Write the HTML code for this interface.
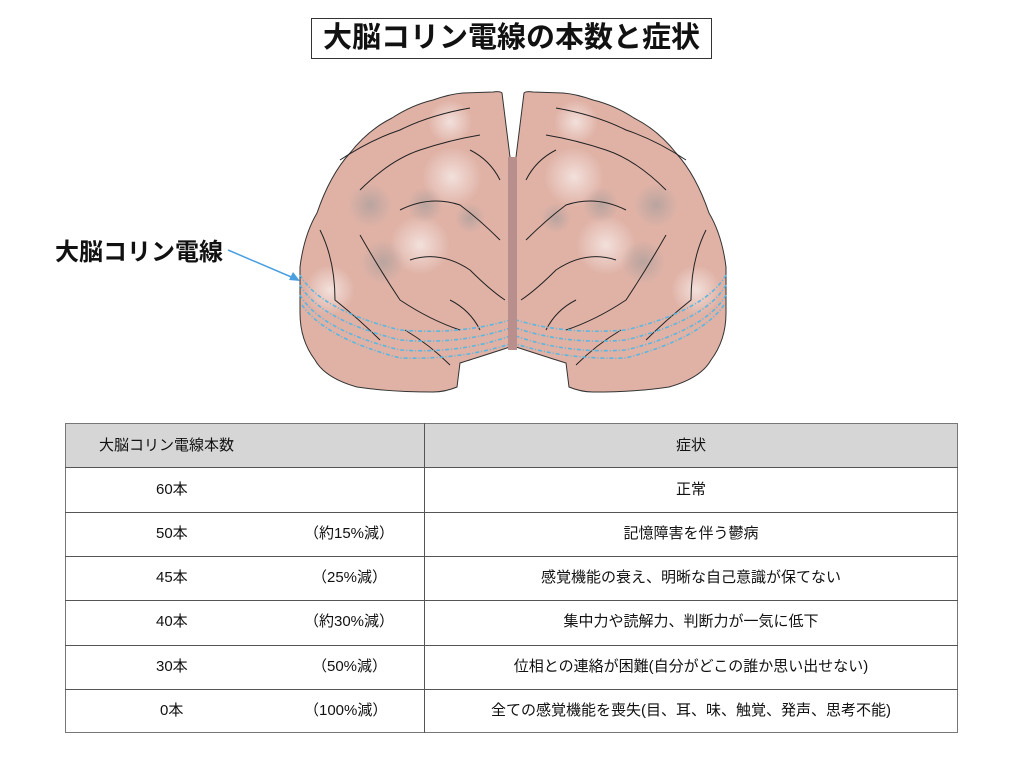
<!DOCTYPE html>
<html><head><meta charset="utf-8"><style>
body{margin:0;width:1024px;height:768px;background:#fff;position:relative;overflow:hidden;font-family:"Liberation Sans","Noto Sans CJK JP",sans-serif;}
.t{position:absolute;white-space:nowrap;color:#111;}
#title{left:311px;top:18px;width:401px;height:41px;border:1px solid #333;box-sizing:border-box;font-size:29px;font-weight:bold;text-align:center;line-height:38px;}
.row{position:absolute;left:65px;width:893px;border-top:1px solid #555;}
.c{position:absolute;font-size:15px;line-height:44px;white-space:nowrap;color:#111;}
</style></head><body>
<div class="t" id="title">大脳コリン電線の本数と症状</div>
<div class="t" style="left:55px;top:232px;font-size:24px;font-weight:bold;">大脳コリン電線</div>
<svg width="1024" height="420" style="position:absolute;left:0;top:0">
<defs>
<radialGradient id="w"><stop offset="0" stop-color="#fff" stop-opacity=".6"/><stop offset="1" stop-color="#fff" stop-opacity="0"/></radialGradient>
<radialGradient id="g"><stop offset="0" stop-color="#999" stop-opacity=".55"/><stop offset="1" stop-color="#999" stop-opacity="0"/></radialGradient>
</defs>
<g id="L">
<path d="M493,92 Q500,91 502,93 L510,157 L510,347 Q470,360 460,363 L457,387 Q445,392 433,392 Q390,392 357,387 Q325,378 315,360 Q300,340 300,313 L300,267 Q304,235 317,213 Q330,175 350,153 Q368,130 392,118 Q412,105 433,100 Q450,94 463,93 Z" fill="#e0b2a6" stroke="#333" stroke-width="1"/>
<circle cx="452" cy="177" r="30" fill="url(#w)"/>
<circle cx="420" cy="245" r="30" fill="url(#w)"/>
<circle cx="450" cy="122" r="22" fill="url(#w)"/>
<circle cx="330" cy="290" r="25" fill="url(#w)"/>
<circle cx="370" cy="205" r="22" fill="url(#g)"/>
<circle cx="425" cy="205" r="18" fill="url(#g)"/>
<circle cx="383" cy="262" r="22" fill="url(#g)"/>
<circle cx="470" cy="218" r="15" fill="url(#g)"/>
<g fill="none" stroke="#222" stroke-width="1">
<path d="M340,160 Q370,140 400,130 Q430,115 470,108"/>
<path d="M360,190 Q390,160 420,150 Q450,140 480,135"/>
<path d="M400,210 Q430,195 460,205 Q480,220 500,240"/>
<path d="M320,230 Q335,260 335,300 Q360,320 380,340"/>
<path d="M360,235 Q380,270 400,300 Q430,320 460,330"/>
<path d="M410,260 Q440,250 470,270 Q490,290 505,300"/>
<path d="M450,300 Q470,310 480,330"/>
<path d="M405,330 Q430,345 450,365"/>
<path d="M470,150 Q490,160 500,180"/>
</g>
<g fill="none" stroke="#5bb6df" stroke-width="1.6" stroke-dasharray="4,2,1,2">
<path d="M300,275 Q320,310 400,330 Q460,335 510,320"/>
<path d="M300,285 Q320,320 400,340 Q460,345 510,328"/>
<path d="M300,295 Q320,330 400,350 Q460,354 510,336"/>
<path d="M302,305 Q325,338 400,358 Q460,360 510,344"/>
</g>
</g>
<use href="#L" transform="translate(1026,0) scale(-1,1)"/>
<rect x="508" y="157" width="9" height="193" fill="#b98f8e"/>
<line x1="228" y1="250" x2="296" y2="279" stroke="#4a9fe0" stroke-width="1.5"/>
<polygon points="300,281 289,280 293,272" fill="#4a9fe0"/>
</svg>
<div style="position:absolute;left:65px;top:423px;width:893px;height:310px;border:1px solid #777;box-sizing:border-box;"></div>
<div style="position:absolute;left:66px;top:424px;width:891px;height:43px;background:#d6d6d6;"></div>
<div style="position:absolute;left:424px;top:423px;width:1px;height:310px;background:#555;"></div>
<div class="row" style="top:467px"></div>
<div class="row" style="top:512px"></div>
<div class="row" style="top:556px"></div>
<div class="row" style="top:600px"></div>
<div class="row" style="top:645px"></div>
<div class="row" style="top:689px"></div>
<div class="c" style="left:99px;top:424px">大脳コリン電線本数</div>
<div class="c" style="left:424px;width:534px;text-align:center;top:424px">症状</div>
<div class="c" style="left:156px;top:468px">60本</div>
<div class="c" style="left:156px;top:512px">50本</div>
<div class="c" style="left:156px;top:556px">45本</div>
<div class="c" style="left:156px;top:600px">40本</div>
<div class="c" style="left:156px;top:645px">30本</div>
<div class="c" style="left:160px;top:689px">0本</div>
<div class="c" style="left:304px;top:512px">（約15%減）</div>
<div class="c" style="left:312px;top:556px">（25%減）</div>
<div class="c" style="left:304px;top:600px">（約30%減）</div>
<div class="c" style="left:312px;top:645px">（50%減）</div>
<div class="c" style="left:304px;top:689px">（100%減）</div>
<div class="c" style="left:424px;width:534px;text-align:center;top:468px">正常</div>
<div class="c" style="left:424px;width:534px;text-align:center;top:512px">記憶障害を伴う鬱病</div>
<div class="c" style="left:424px;width:534px;text-align:center;top:556px">感覚機能の衰え、明晰な自己意識が保てない</div>
<div class="c" style="left:424px;width:534px;text-align:center;top:600px">集中力や読解力、判断力が一気に低下</div>
<div class="c" style="left:424px;width:534px;text-align:center;top:645px">位相との連絡が困難(自分がどこの誰か思い出せない)</div>
<div class="c" style="left:424px;width:534px;text-align:center;top:689px">全ての感覚機能を喪失(目、耳、味、触覚、発声、思考不能)</div>
</body></html>
